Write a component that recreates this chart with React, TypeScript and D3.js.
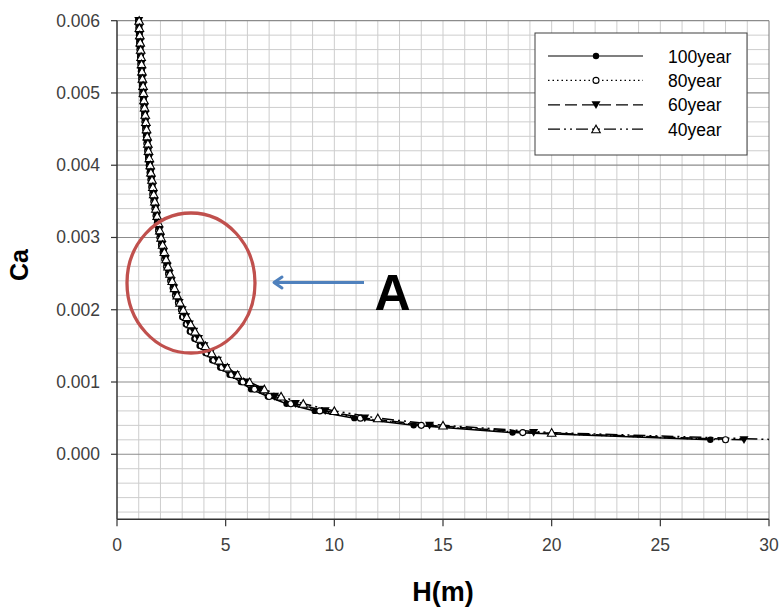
import React from "react";
import { scaleLinear, line, range } from "d3";

// Ca grid shared by all series (one point every 0.0001)
const caValues = [
  0.006, 0.0059, 0.0058, 0.0057, 0.0056, 0.0055, 0.0054, 0.0053, 0.0052, 0.0051,
  0.005, 0.0049, 0.0048, 0.0047, 0.0046, 0.0045, 0.0044, 0.0043, 0.0042, 0.0041,
  0.004, 0.0039, 0.0038, 0.0037, 0.0036, 0.0035, 0.0034, 0.0033, 0.0032, 0.0031,
  0.003, 0.0029, 0.0028, 0.0027, 0.0026, 0.0025, 0.0024, 0.0023, 0.0022, 0.0021,
  0.002, 0.0019, 0.0018, 0.0017, 0.0016, 0.0015, 0.0014, 0.0013, 0.0012, 0.0011,
  0.001, 0.0009, 0.0008, 0.0007, 0.0006, 0.0005, 0.0004, 0.0003, 0.0002,
];

// H(m) for each series
const h100 = [
  0.98, 1.0, 1.02, 1.04, 1.05, 1.07, 1.09, 1.11, 1.13, 1.16,
  1.18, 1.2, 1.23, 1.26, 1.28, 1.31, 1.34, 1.37, 1.4, 1.44,
  1.47, 1.51, 1.55, 1.59, 1.64, 1.69, 1.74, 1.79, 1.84, 1.9,
  1.97, 2.03, 2.11, 2.19, 2.27, 2.36, 2.46, 2.57, 2.68, 2.81,
  2.95, 3.0, 3.17, 3.35, 3.56, 3.8, 4.07, 4.38, 4.75, 5.18,
  5.7, 6.17, 6.94, 7.8, 9.1, 10.92, 13.65, 18.2, 27.3,
];
const h80 = [
  0.99, 1.01, 1.03, 1.04, 1.06, 1.08, 1.1, 1.12, 1.14, 1.17,
  1.19, 1.21, 1.24, 1.27, 1.29, 1.32, 1.35, 1.38, 1.42, 1.45,
  1.49, 1.53, 1.57, 1.61, 1.65, 1.7, 1.75, 1.8, 1.86, 1.92,
  1.98, 2.05, 2.13, 2.2, 2.29, 2.38, 2.48, 2.59, 2.7, 2.83,
  2.98, 3.05, 3.22, 3.41, 3.63, 3.87, 4.14, 4.46, 4.83, 5.27,
  5.8, 6.33, 7.0, 8.0, 9.33, 11.2, 14.0, 18.67, 28.0,
];
const h60 = [
  1.0, 1.02, 1.03, 1.05, 1.07, 1.09, 1.11, 1.13, 1.15, 1.18,
  1.2, 1.22, 1.25, 1.28, 1.3, 1.33, 1.36, 1.4, 1.43, 1.46,
  1.5, 1.54, 1.58, 1.62, 1.67, 1.71, 1.76, 1.82, 1.88, 1.94,
  2.0, 2.07, 2.14, 2.22, 2.31, 2.4, 2.5, 2.61, 2.73, 2.86,
  3.0, 3.16, 3.33, 3.53, 3.75, 4.0, 4.29, 4.62, 5.0, 5.45,
  6.0, 6.56, 7.25, 8.21, 9.58, 11.4, 14.38, 19.17, 28.85,
];
const h40 = [
  1.02, 1.03, 1.05, 1.07, 1.09, 1.11, 1.13, 1.15, 1.17, 1.2,
  1.22, 1.24, 1.27, 1.3, 1.33, 1.36, 1.39, 1.42, 1.45, 1.49,
  1.53, 1.56, 1.61, 1.65, 1.69, 1.74, 1.79, 1.85, 1.91, 1.97,
  2.03, 2.1, 2.18, 2.26, 2.35, 2.44, 2.54, 2.65, 2.77, 2.9,
  3.05, 3.21, 3.39, 3.59, 3.81, 4.07, 4.36, 4.69, 5.08, 5.55,
  6.1, 6.78, 7.55, 8.57, 10.0, 12.0, 15.0, 20.0, 30.6,
];

const seriesNames = ["100year", "80year", "60year", "40year"];
const xTicks = [0, 5, 10, 15, 20, 25, 30];
const yTicks = [0.0, 0.001, 0.002, 0.003, 0.004, 0.005, 0.006];

const series = [
  { name: seriesNames[0], h: h100, dash: "none", marker: "dot" },
  { name: seriesNames[1], h: h80, dash: "1.5,3", marker: "circle" },
  { name: seriesNames[2], h: h60, dash: "12,5", marker: "down" },
  { name: seriesNames[3], h: h40, dash: "12,4,2,4,2,4", marker: "up" },
];

const W = 779;
const H = 610;
const left = 117;
const right = 769;
const top = 20.7;
const bottom = 519.3;

const font = "'Liberation Sans', Arial, sans-serif";
const textColor = "#404040";

function Marker({ kind, x, y }: { kind: string; x: number; y: number }) {
  if (kind === "dot") return <circle cx={x} cy={y} r={3.2} fill="#000" />;
  if (kind === "circle")
    return <circle cx={x} cy={y} r={3} fill="#fff" stroke="#000" strokeWidth={1.1} />;
  if (kind === "down")
    return <polygon points={`${x - 4.5},${y - 3.6} ${x + 4.5},${y - 3.6} ${x},${y + 4.2}`} fill="#000" />;
  return (
    <polygon
      points={`${x - 4.3},${y + 3.6} ${x + 4.3},${y + 3.6} ${x},${y - 4}`}
      fill="#fff"
      stroke="#000"
      strokeWidth={1.1}
    />
  );
}

export default function App() {
  const x = scaleLinear().domain([0, 30]).range([left, right]);
  const y = scaleLinear().domain([-0.0009, 0.006]).range([bottom, top]);

  const path = line<number>()
    .x((d) => x(d))
    .y((_, i) => y(caValues[i]));

  // minor horizontal grid every 0.0002, skipping the major ones
  const minorY = range(-4, 30)
    .map((v) => v * 0.0002)
    .filter((v) => Math.abs(v * 1000 - Math.round(v * 1000)) > 1e-6);
  const verticals = range(1, 30);

  return (
    <div style={{ position: "absolute", left: 0, top: 0 }}>
      <svg width={W} height={H} style={{ display: "block", background: "#fff" }}>
        <defs>
          <clipPath id="plot">
            <rect x={left} y={top - 6} width={right - left} height={bottom - top + 6} />
          </clipPath>
        </defs>

        {/* grid */}
        {verticals.map((v) => (
          <line key={"v" + v} x1={x(v)} x2={x(v)} y1={top} y2={bottom} stroke="#cdcdcd" strokeWidth={1} />
        ))}
        {minorY.map((v, i) => (
          <line key={"m" + i} x1={left} x2={right} y1={y(v)} y2={y(v)} stroke="#cdcdcd" strokeWidth={1} />
        ))}
        {yTicks.map((v) => (
          <line key={"M" + v} x1={left} x2={right} y1={y(v)} y2={y(v)} stroke="#8c8c8c" strokeWidth={1.2} />
        ))}
        <line x1={right} x2={right} y1={top} y2={bottom} stroke="#7a7a7a" strokeWidth={1} />

        {/* axes */}
        <line x1={left} x2={left} y1={top} y2={bottom} stroke="#333" strokeWidth={1.5} />
        <line x1={left} x2={right} y1={bottom} y2={bottom} stroke="#333" strokeWidth={1.5} />
        {yTicks.map((v) => (
          <g key={"yt" + v}>
            <line x1={left - 6} x2={left} y1={y(v)} y2={y(v)} stroke="#333" strokeWidth={1.2} />
            <text x={100} y={y(v) + 6} textAnchor="end" fontFamily={font} fontSize={17.5} fill={textColor}>
              {v.toFixed(3)}
            </text>
          </g>
        ))}
        {xTicks.map((v) => (
          <g key={"xt" + v}>
            <line x1={x(v)} x2={x(v)} y1={bottom} y2={bottom + 7} stroke="#333" strokeWidth={1.2} />
            <text x={x(v)} y={551} textAnchor="middle" fontFamily={font} fontSize={17.5} fill={textColor}>
              {v}
            </text>
          </g>
        ))}

        {/* axis titles */}
        <text
          transform={`translate(28,265) rotate(-90)`}
          textAnchor="middle"
          fontFamily={font}
          fontWeight="bold"
          fontSize={25}
          fill="#000"
        >
          Ca
        </text>
        <text x={443} y={601} textAnchor="middle" fontFamily={font} fontWeight="bold" fontSize={27} fill="#000">
          H(m)
        </text>

        {/* series */}
        <g clipPath="url(#plot)">
          {series.map((s) => (
            <path key={s.name} d={path(s.h) || ""} fill="none" stroke="#000" strokeWidth={1.5} strokeDasharray={s.dash} />
          ))}
          {series.map((s) =>
            s.h.map((hv, i) => <Marker key={s.name + i} kind={s.marker} x={x(hv)} y={y(caValues[i])} />)
          )}
        </g>

        {/* legend */}
        <rect x={535} y={33} width={212} height={122} fill="#fff" stroke="#404040" strokeWidth={1} />
        {series.map((s, i) => {
          const ly = 56 + i * 24.4;
          return (
            <g key={"lg" + s.name}>
              <line x1={548} x2={643} y1={ly} y2={ly} stroke="#000" strokeWidth={1.2} strokeDasharray={s.dash} />
              <Marker kind={s.marker} x={596} y={ly} />
              <text x={668} y={ly + 6.5} fontFamily={font} fontSize={17.5} fill="#000">
                {s.name}
              </text>
            </g>
          );
        })}

        {/* annotation */}
        <ellipse cx={191} cy={283} rx={64} ry={70} fill="none" stroke="#c0504d" strokeWidth={3.3} />
        <line x1={364} x2={274} y1={282.5} y2={282.5} stroke="#4f81bd" strokeWidth={3} />
        <polyline
          points="282,277 274,282.5 282,288"
          fill="none"
          stroke="#4f81bd"
          strokeWidth={3}
          strokeLinecap="round"
          strokeLinejoin="round"
        />
        <text x={392.5} y={309.5} textAnchor="middle" fontFamily={font} fontWeight="bold" fontSize={50} fill="#000">
          A
        </text>
      </svg>
    </div>
  );
}
